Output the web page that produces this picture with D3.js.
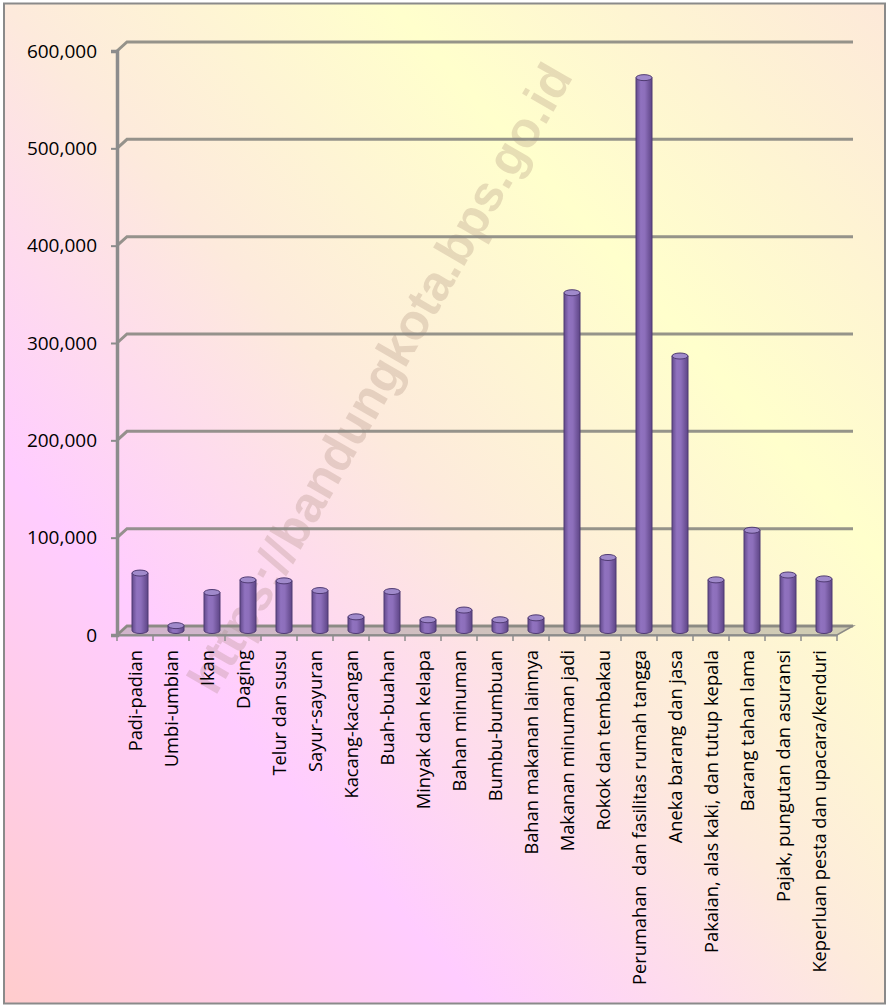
<!DOCTYPE html>
<html><head><meta charset="utf-8">
<script src="https://cdn.jsdelivr.net/npm/d3@7"></script>
<style>html,body{margin:0;padding:0;background:#fff}</style>
</head><body>
<script>
const categories = ["Padi-padian","Umbi-umbian","Ikan","Daging","Telur dan susu","Sayur-sayuran","Kacang-kacangan","Buah-buahan","Minyak dan kelapa","Bahan minuman","Bumbu-bumbuan","Bahan makanan lainnya","Makanan minuman jadi","Rokok dan tembakau","Perumahan  dan fasilitas rumah tangga","Aneka barang dan jasa","Pakaian, alas kaki, dan tutup kepala","Barang tahan lama","Pajak, pungutan dan asuransi","Keperluan pesta dan upacara/kenduri"];
const values = [59000,5000,39000,52000,51000,41000,14000,40000,11000,21000,11000,13000,347000,75000,568000,282000,52000,103000,57000,53000];
const yTicks = [0,100000,200000,300000,400000,500000,600000];
const watermark = "https://bandungkota.bps.go.id";

const W = 888, H = 1008;
const svg = d3.select("body").append("svg").attr("width", W).attr("height", H);
const defs = svg.append("defs");

const bg = defs.append("linearGradient").attr("id","bg").attr("x1",0).attr("y1",1).attr("x2",1).attr("y2",0);
[[0,"#ffcccc"],[0.27,"#ffccff"],[0.5,"#fdeadc"],[0.72,"#ffffcc"],[1,"#fde9d9"]].forEach(s=>bg.append("stop").attr("offset",s[0]).attr("stop-color",s[1]));

const cyl = defs.append("linearGradient").attr("id","cyl").attr("x1",0).attr("y1",0).attr("x2",1).attr("y2",0);
[[0,"#634a8c"],[0.3,"#9072bf"],[0.55,"#8d6fbb"],[1,"#5e4586"]].forEach(s=>cyl.append("stop").attr("offset",s[0]).attr("stop-color",s[1]));

svg.append("rect").attr("x",4).attr("y",3.5).attr("width",881).attr("height",1000)
  .attr("fill","url(#bg)").attr("stroke","#8a8a8a").attr("stroke-width",2);

const x = d3.scaleBand().domain(categories).range([117, 837]).paddingInner(0);
const y = d3.scaleLinear().domain([0,600000]).range([635, 51]);
const dx = 10, dy = -9;

// watermark
svg.append("text").text(watermark)
  .attr("transform","translate(380,378) rotate(-60)")
  .attr("text-anchor","middle").attr("dominant-baseline","central")
  .attr("font-family","Liberation Sans, Arial, sans-serif").attr("font-weight","bold")
  .attr("font-size",50).attr("fill","#9a7a6a").attr("fill-opacity",0.24);

// floor
const x0 = x.range()[0], x1 = x.range()[1];
svg.append("path")
  .attr("d",`M${x0},${y(0)} L${x0+dx},${y(0)+dy} L${x1+16},${y(0)+dy} L${x1},${y(0)} Z`)
  .attr("fill","#9a9690").attr("fill-opacity",0.45).attr("stroke","#8c8a86").attr("stroke-width",1.5);

// gridlines
const grid = svg.append("g");
yTicks.forEach(t=>{
  grid.append("path")
   .attr("d",`M${x0},${y(t)} L${x0+dx},${y(t)+dy} L${x1+16},${y(t)+dy}`)
   .attr("fill","none").attr("stroke","#8a8882").attr("stroke-width",3).attr("stroke-opacity",0.9);
});

// y axis
const yAxis = svg.append("g").attr("transform",`translate(${x0},0)`)
  .call(d3.axisLeft(y).tickValues(yTicks).tickSize(6).tickPadding(14).tickFormat(d3.format(",")));
yAxis.select(".domain").attr("stroke","#8c8c8c").attr("stroke-width",3.5);
yAxis.selectAll(".tick line").attr("stroke","#8c8c8c").attr("stroke-width",2);
yAxis.selectAll(".tick text").attr("font-family","Open Sans, sans-serif").attr("font-size",19).attr("fill","#000");

// x axis ticks
const xAxis = svg.append("g").attr("transform",`translate(0,${y(0)})`)
  .call(d3.axisBottom(x).tickSize(0).tickFormat(""));
xAxis.select(".domain").attr("stroke","#8c8c8c").attr("stroke-width",2);
xAxis.selectAll(".tick").remove();
xAxis.selectAll(".sep").data(d3.range(categories.length+1)).enter().append("line")
  .attr("x1",i=>x0+i*x.bandwidth()).attr("x2",i=>x0+i*x.bandwidth())
  .attr("y1",0).attr("y2",6).attr("stroke","#8c8c8c").attr("stroke-width",1.5);

// labels
svg.append("g").selectAll("text").data(categories).enter().append("text")
  .attr("transform",d=>`translate(${x(d)+x.bandwidth()/2+1},650) rotate(-90)`)
  .attr("text-anchor","end").attr("dy","0.35em")
  .attr("font-family","Open Sans, sans-serif").attr("font-size",18.3).attr("fill","#000")
  .style("white-space","pre")
  .text(d=>d);

// bars (cylinders)
const bw = 16, ry = 3;
const bars = svg.append("g");
categories.forEach((c,i)=>{
  const cx = x(c)+x.bandwidth()/2+dx/2;
  const yb = y(0)+dy/2, yt = y(values[i])+dy/2;
  const g = bars.append("g");
  g.append("path")
    .attr("d",`M${cx-bw/2},${yt} L${cx-bw/2},${yb} A${bw/2},${ry} 0 0 0 ${cx+bw/2},${yb} L${cx+bw/2},${yt} Z`)
    .attr("fill","url(#cyl)").attr("stroke","#4f3a72").attr("stroke-width",1);
  g.append("ellipse").attr("cx",cx).attr("cy",yt).attr("rx",bw/2).attr("ry",ry)
    .attr("fill","#a08acb").attr("stroke","#4f3a72").attr("stroke-width",1);
});
</script>
</body></html>
